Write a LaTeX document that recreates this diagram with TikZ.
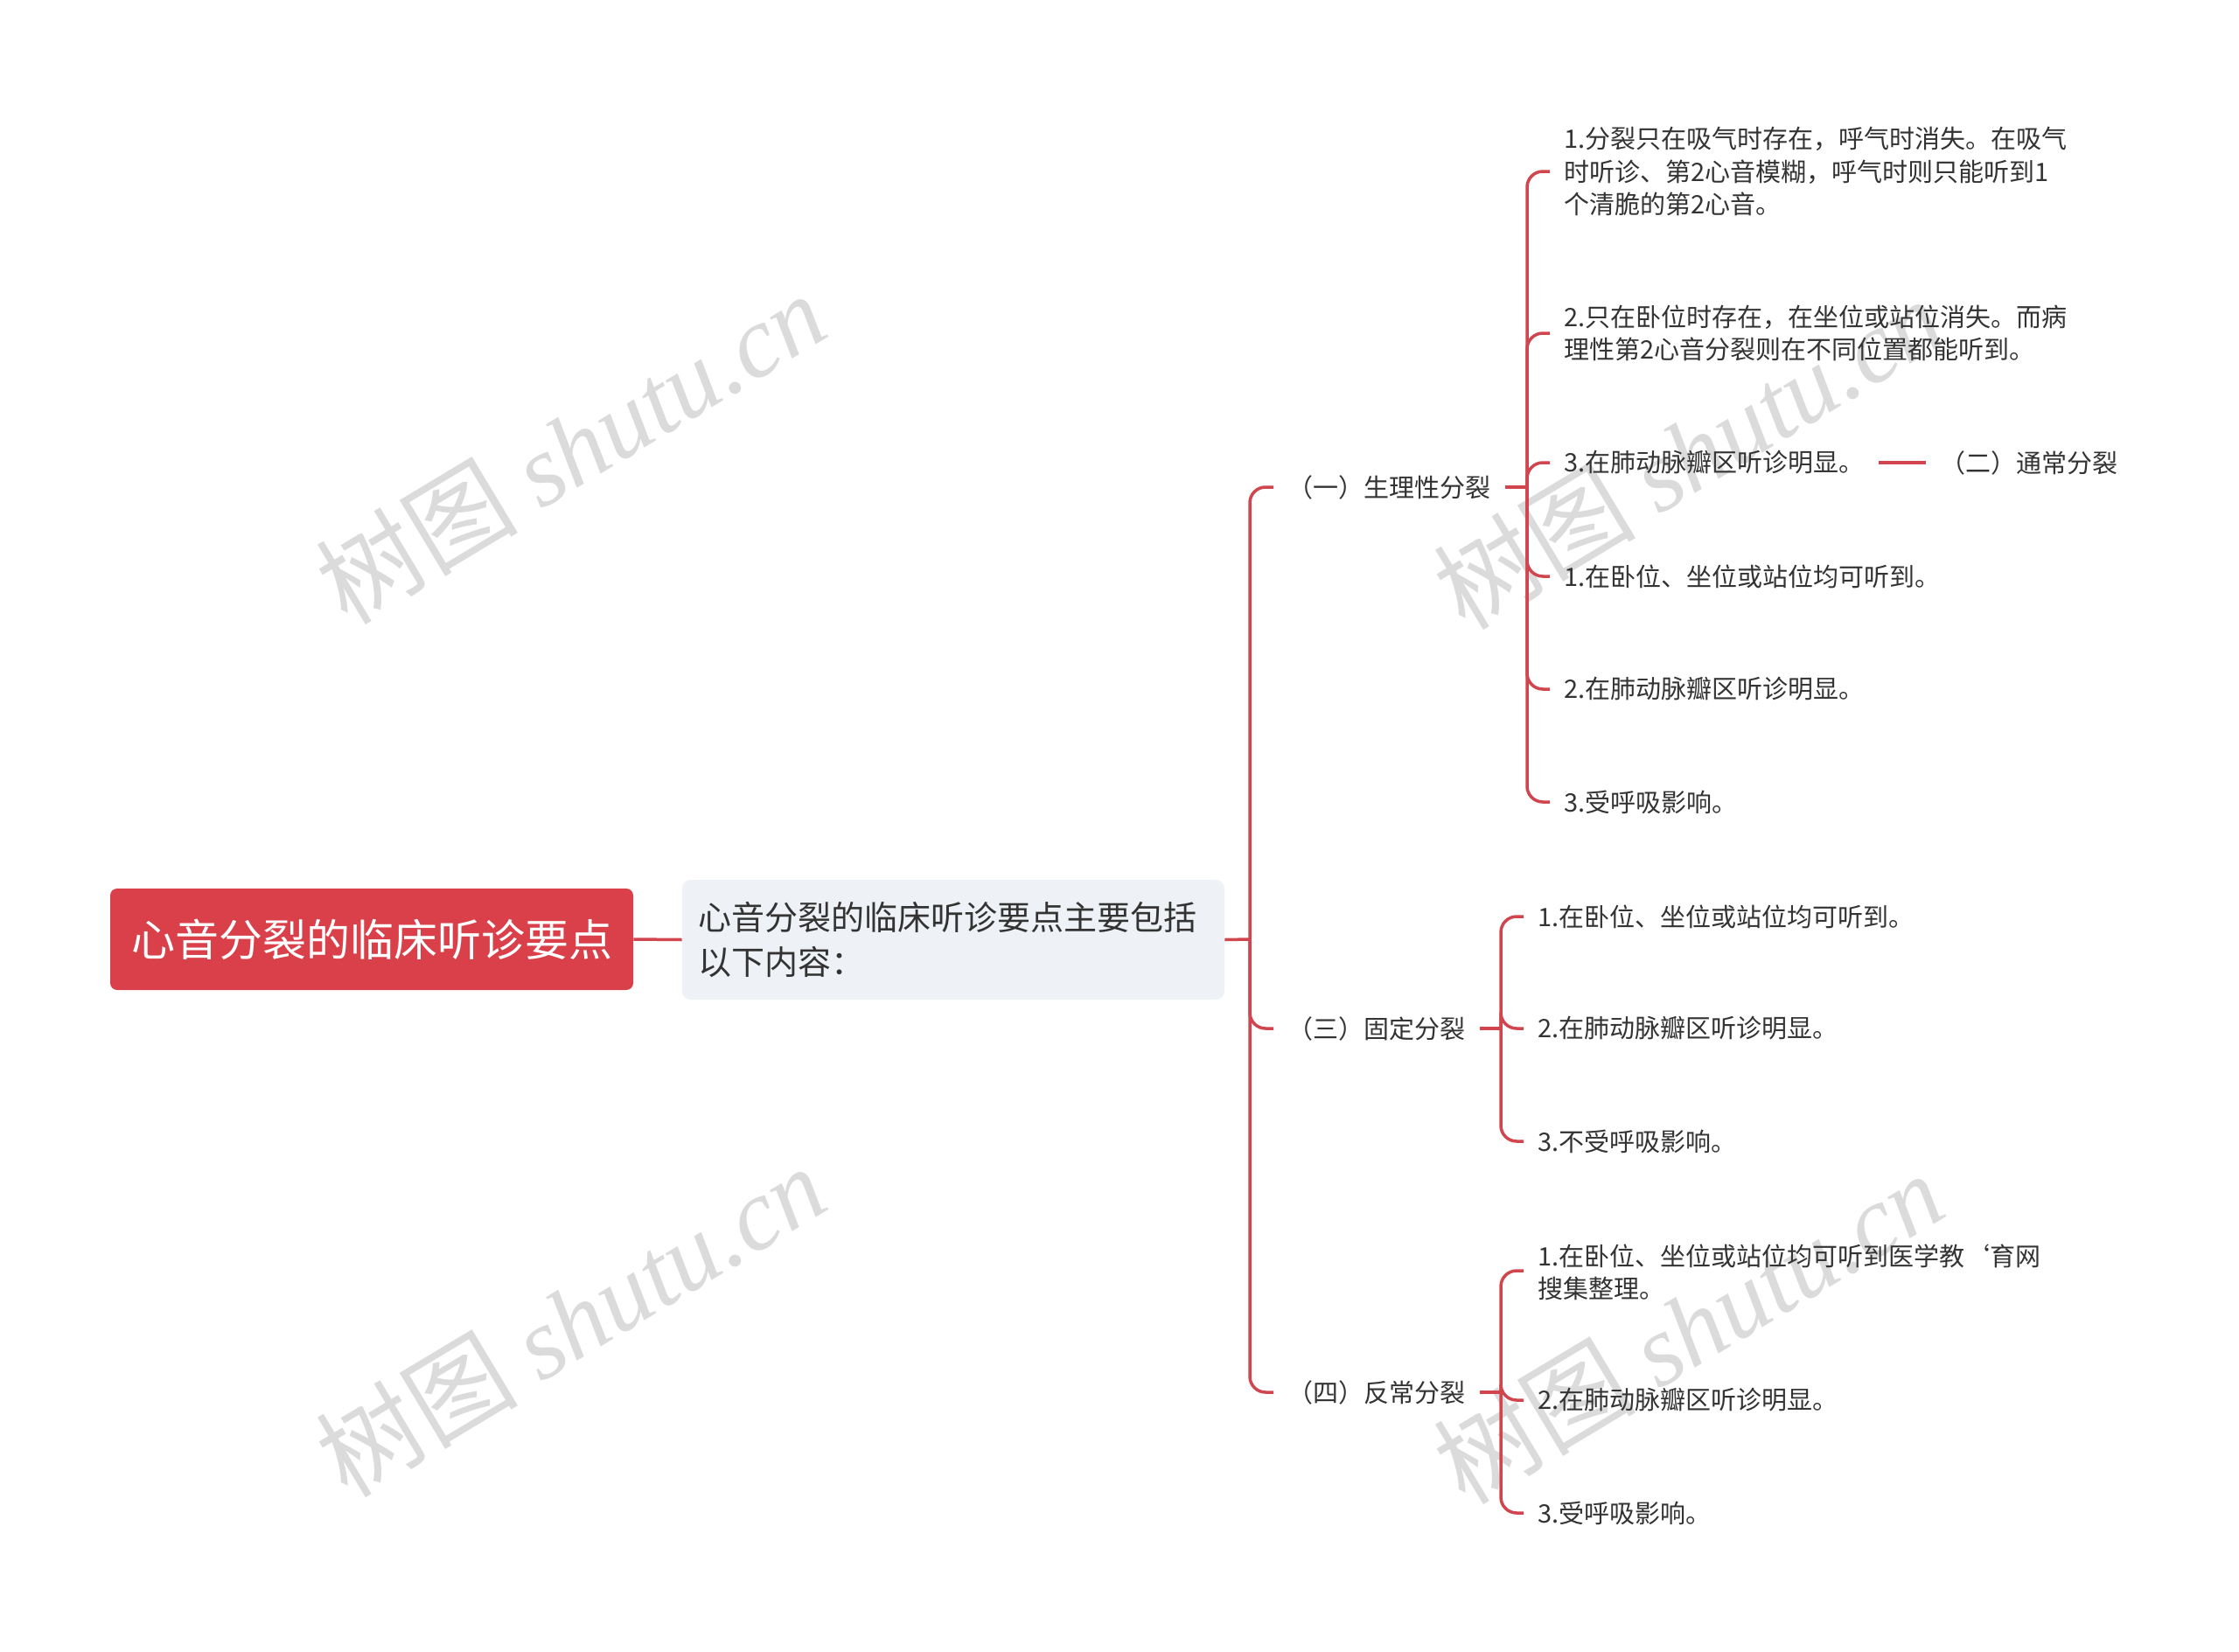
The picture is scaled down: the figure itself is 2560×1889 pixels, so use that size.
\documentclass[tikz,border=0pt]{standalone}
\usepackage{fontspec}
\setmainfont{Noto Sans CJK SC}
\newfontfamily\wmserif{Liberation Serif}
\usetikzlibrary{calc}
\definecolor{mred}{HTML}{D9404A}
\definecolor{lred}{HTML}{D0454E}
\definecolor{boxgray}{HTML}{EEF1F5}
\definecolor{txt}{HTML}{333333}
\definecolor{wm}{HTML}{DBDBDB}
\begin{document}
\begin{tikzpicture}[x=0.5pt,y=-0.5pt,
  conn/.style={draw=lred, line width=1.75pt, rounded corners=9pt},
  leaf/.style={anchor=west, inner sep=0pt, text=txt, font=\fontsize{14.5pt}{18.8pt}\selectfont, align=left},
  wmark/.style={text=wm, rotate=31, font=\fontsize{58pt}{58pt}\selectfont, inner sep=0pt}]
\useasboundingbox[fill=white] (0,0) rectangle (2560,1889);

% watermarks
\node[wmark] (w1) at (652,512) {树图 {\wmserif\itshape shutu.cn}};
\node[wmark] (w2) at (652,1510) {树图 {\wmserif\itshape shutu.cn}};
\node[wmark] (w3) at (1930,518) {树图 {\wmserif\itshape shutu.cn}};
\node[wmark] (w4) at (1930,1518) {树图 {\wmserif\itshape shutu.cn}};

% root and summary box
\node[fill=mred, rounded corners=4pt, minimum width=299pt, minimum height=58pt, inner sep=0pt,
      text=white, font=\fontsize{25pt}{30pt}\selectfont] (root) at (425,1074) {心音分裂的临床听诊要点};
\node[fill=boxgray, rounded corners=5pt, text width=292pt, inner xsep=9pt, inner ysep=0pt,
      minimum height=68.5pt, align=left, text=txt, font=\fontsize{19pt}{25.5pt}\selectfont]
      (box) at (1090,1074.5) {心音分裂的临床听诊要点主要包括\\以下内容：};

% first-level branches
\node[leaf] (b1) at (1472,557) {（一）生理性分裂};
\node[leaf] (b3) at (1472,1176) {（三）固定分裂};
\node[leaf] (b4) at (1472,1592) {（四）反常分裂};

% children of (一)
\node[leaf] (c11) at (1788,196) {1.分裂只在吸气时存在，呼气时消失。在吸气\\时听诊、第2心音模糊，呼气时则只能听到1\\个清脆的第2心音。};
\node[leaf] (c12) at (1788,381) {2.只在卧位时存在，在坐位或站位消失。而病\\理性第2心音分裂则在不同位置都能听到。};
\node[leaf] (c13) at (1788,529) {3.在肺动脉瓣区听诊明显。};
\node[leaf] (b2) at (2218,529) {（二）通常分裂};
\node[leaf] (c14) at (1788,659) {1.在卧位、坐位或站位均可听到。};
\node[leaf] (c15) at (1788,788) {2.在肺动脉瓣区听诊明显。};
\node[leaf] (c16) at (1788,917) {3.受呼吸影响。};

% children of (三)
\node[leaf] (c31) at (1758,1048) {1.在卧位、坐位或站位均可听到。};
\node[leaf] (c32) at (1758,1176) {2.在肺动脉瓣区听诊明显。};
\node[leaf] (c33) at (1758,1305) {3.不受呼吸影响。};

% children of (四)
\node[leaf] (c41) at (1758,1455) {1.在卧位、坐位或站位均可听到医学教\symbol{96}育网\\搜集整理。};
\node[leaf] (c42) at (1758,1601) {2.在肺动脉瓣区听诊明显。};
\node[leaf] (c43) at (1758,1730) {3.受呼吸影响。};

% spine points
\coordinate (m) at (1429,1074);
\coordinate (s1) at (1746,557);
\coordinate (s3) at (1716,1176);
\coordinate (s4) at (1716,1592);

% connectors
\draw[conn] (root.east) -- (box.west);
\draw[conn] (box.east) -- (m);
\foreach \t in {b1,b3,b4} \draw[conn] (m) |- ([xshift=-8pt]\t.west);

\draw[conn] ([xshift=8pt]b1.east) -- (s1);
\foreach \t in {c11,c12,c13,c14,c15,c16} \draw[conn] (s1) |- ([xshift=-8pt]\t.west);
\draw[conn] ([xshift=8pt]c13.east) -- ([xshift=-8pt]b2.west);

\draw[conn] ([xshift=8pt]b3.east) -- (s3);
\foreach \t in {c31,c32,c33} \draw[conn] (s3) |- ([xshift=-8pt]\t.west);

\draw[conn] ([xshift=8pt]b4.east) -- (s4);
\draw[conn] (s4) |- ([xshift=-8pt,yshift=1pt]c41.west);
\foreach \t in {c42,c43} \draw[conn] (s4) |- ([xshift=-8pt]\t.west);
\end{tikzpicture}
\end{document}
